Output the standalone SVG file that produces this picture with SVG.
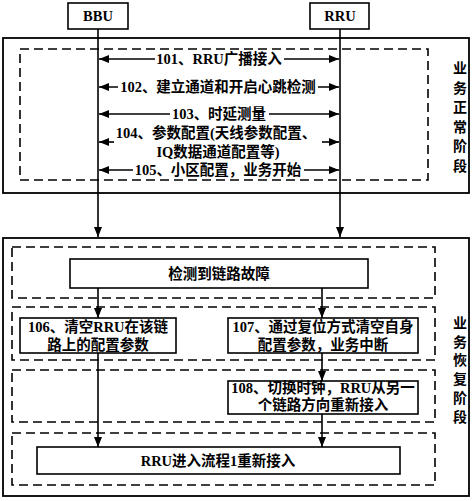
<svg xmlns="http://www.w3.org/2000/svg" width="474" height="501" viewBox="0 0 474 501">
<defs>
<marker id="ah" viewBox="0 0 10 8" refX="10" refY="4" markerWidth="10" markerHeight="8" markerUnits="userSpaceOnUse" orient="auto-start-reverse">
<path d="M0,0 L10,4 L0,8 z" fill="#000"/>
</marker>
<style>
.box{fill:#fff;stroke:#000;stroke-width:1.6}
.outer{fill:none;stroke:#000;stroke-width:1.8}
.dash{fill:none;stroke:#000;stroke-width:1.6;stroke-dasharray:9,5}
.ln{stroke:#000;stroke-width:1.6;fill:none}
.t{font-family:"Liberation Serif","Noto Sans CJK SC",serif;font-size:14.5px;font-weight:bold;fill:#000;text-anchor:middle;dominant-baseline:central}
.v{font-family:"Liberation Serif","Noto Sans CJK SC",serif;font-size:14px;font-weight:bold;fill:#000;text-anchor:middle;dominant-baseline:central}
</style>
</defs>
<rect width="474" height="501" fill="#fff"/>
<g id="phase1">
<rect class="outer" x="3" y="38" width="466" height="155"/>
<rect class="dash" x="20" y="49" width="408" height="131"/>
<text class="v" x="460" y="68">业</text>
<text class="v" x="460" y="88">务</text>
<text class="v" x="460" y="107">正</text>
<text class="v" x="460" y="127">常</text>
<text class="v" x="460" y="146">阶</text>
<text class="v" x="460" y="166">段</text>
</g>
<g id="phase2">
<rect class="outer" x="3" y="238" width="466" height="258"/>
<rect class="dash" x="12" y="247" width="423" height="51"/>
<rect class="dash" x="12" y="307" width="423" height="53"/>
<rect class="dash" x="12" y="370" width="423" height="52"/>
<rect class="dash" x="12" y="433" width="423" height="52"/>
<text class="v" x="460" y="323">业</text>
<text class="v" x="460" y="342">务</text>
<text class="v" x="460" y="360">恢</text>
<text class="v" x="460" y="379">复</text>
<text class="v" x="460" y="398">阶</text>
<text class="v" x="460" y="417">段</text>
</g>
<g id="connectors">
<line class="ln" x1="98" y1="29" x2="98" y2="237" marker-end="url(#ah)"/>
<line class="ln" x1="340" y1="29" x2="340" y2="237" marker-end="url(#ah)"/>
<line class="ln" x1="99" y1="59" x2="339" y2="59" marker-start="url(#ah)" marker-end="url(#ah)"/>
<line class="ln" x1="99" y1="87" x2="339" y2="87" marker-start="url(#ah)" marker-end="url(#ah)"/>
<line class="ln" x1="99" y1="114" x2="339" y2="114" marker-start="url(#ah)" marker-end="url(#ah)"/>
<line class="ln" x1="99" y1="142" x2="114" y2="142" marker-start="url(#ah)"/>
<line class="ln" x1="322" y1="142" x2="339" y2="142" marker-end="url(#ah)"/>
<line class="ln" x1="99" y1="170" x2="339" y2="170" marker-start="url(#ah)" marker-end="url(#ah)"/>
<line class="ln" x1="98" y1="288" x2="98" y2="318" marker-end="url(#ah)"/>
<line class="ln" x1="322" y1="288" x2="322" y2="318" marker-end="url(#ah)"/>
<line class="ln" x1="322" y1="353" x2="322" y2="381" marker-end="url(#ah)"/>
<line class="ln" x1="98" y1="353" x2="98" y2="447" marker-end="url(#ah)"/>
<line class="ln" x1="322" y1="414" x2="322" y2="447" marker-end="url(#ah)"/>
</g>
<g id="bbu">
<rect class="box" x="68" y="3" width="60" height="26"/>
<text class="t" x="98" y="16">BBU</text>
</g>
<g id="rru">
<rect class="box" x="310" y="3" width="59" height="26"/>
<text class="t" x="340" y="16">RRU</text>
</g>
<g id="m101">
<rect x="155" y="51" width="129" height="16" fill="#fff"/>
<text class="t" x="219" y="59">101、RRU广播接入</text>
</g>
<g id="m102">
<rect x="118" y="79" width="200" height="16" fill="#fff"/>
<text class="t" x="218" y="87">102、建立通道和开启心跳检测</text>
</g>
<g id="m103">
<rect x="170" y="106" width="99" height="16" fill="#fff"/>
<text class="t" x="219" y="114">103、时延测量</text>
</g>
<g id="m104">
<text class="t" x="216" y="133">104、参数配置(天线参数配置、</text>
<text class="t" x="218" y="152">IQ数据通道配置等)</text>
</g>
<g id="m105">
<rect x="133" y="162" width="171" height="16" fill="#fff"/>
<text class="t" x="218" y="170">105、小区配置，业务开始</text>
</g>
<g id="detect">
<rect class="box" x="70" y="259" width="298" height="29"/>
<text class="t" x="219" y="274">检测到链路故障</text>
</g>
<g id="s106">
<rect class="box" x="20" y="318" width="156" height="35"/>
<text class="t" x="98" y="327">106、清空RRU在该链</text>
<text class="t" x="98" y="345">路上的配置参数</text>
</g>
<g id="s107">
<rect class="box" x="228" y="318" width="190" height="35"/>
<text class="t" x="323" y="327">107、通过复位方式清空自身</text>
<text class="t" x="323" y="345">配置参数，业务中断</text>
</g>
<g id="s108">
<rect class="box" x="228" y="381" width="190" height="33"/>
<text class="t" x="323" y="388">108、切换时钟，RRU从另一</text>
<text class="t" x="323" y="405">个链路方向重新接入</text>
</g>
<g id="reaccess">
<rect class="box" x="37" y="447" width="363" height="27"/>
<text class="t" x="218" y="461">RRU进入流程1重新接入</text>
</g>
</svg>
